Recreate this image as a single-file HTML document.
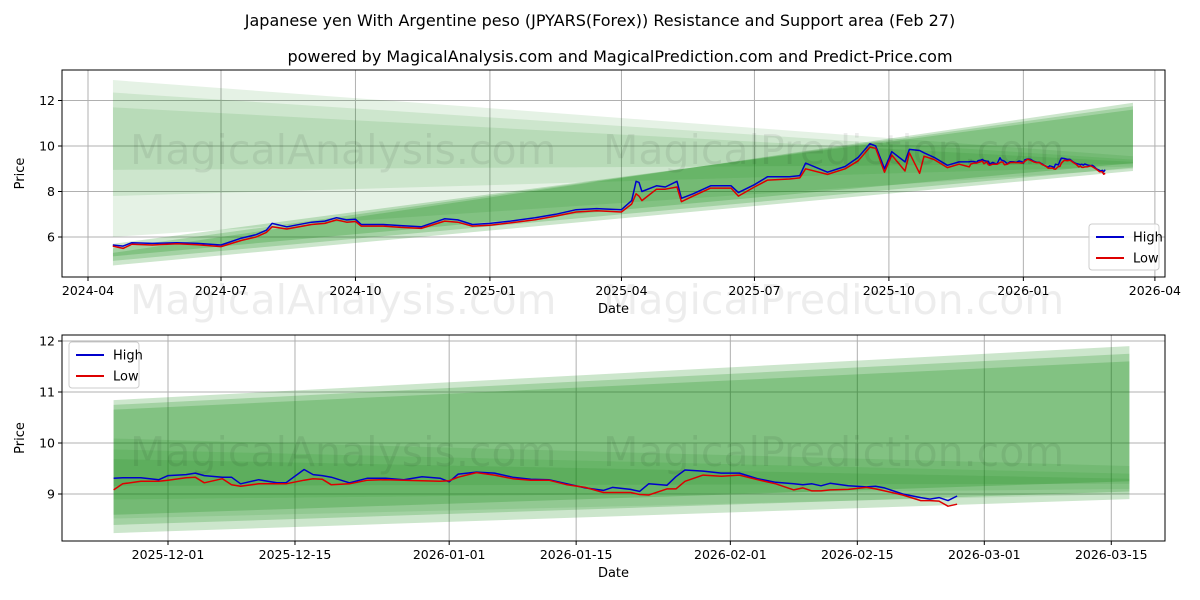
<!DOCTYPE html>
<html><head><meta charset="utf-8"><style>
html,body{margin:0;padding:0;background:#fff;overflow:hidden;width:1200px;height:600px}
svg{display:block}
svg text{font-family:"DejaVu Sans","Liberation Sans",sans-serif}
</style></head><body>
<svg id="c" width="1200" height="600" xmlns="http://www.w3.org/2000/svg">
<text x="600" y="26" font-size="16" text-anchor="middle">Japanese yen With Argentine peso (JPYARS(Forex)) Resistance and Support area (Feb 27)</text>
<text x="620" y="62" font-size="16" text-anchor="middle">powered by MagicalAnalysis.com and MagicalPrediction.com and Predict-Price.com</text>
</svg>
<script>
// ---- data ----
const bandStart = '2024-04-18', bandEnd = '2026-03-17';
const riseLo0 = [4.75, 4.95, 5.15], riseLo1 = [8.9, 9.05, 9.25];
const riseHi0 = [5.3, 5.5, 5.7], riseHi1 = [11.9, 11.75, 11.6];
const fallLo0 = [6.0, 7.8, 8.95], fallLo1 = [9.0, 9.1, 9.2];
const fallHi0 = [12.9, 12.35, 11.7], fallHi1 = [9.55, 9.4, 9.3];

const histDates = ['2024-04-18','2024-04-25','2024-05-01','2024-05-15','2024-06-01','2024-06-15','2024-07-01','2024-07-15','2024-07-25','2024-08-01','2024-08-05','2024-08-15','2024-09-01','2024-09-10','2024-09-18','2024-09-25','2024-10-01','2024-10-05','2024-10-20','2024-11-01','2024-11-15','2024-12-01','2024-12-10','2024-12-20','2025-01-01','2025-01-15','2025-02-01','2025-02-15','2025-03-01','2025-03-15','2025-04-01','2025-04-08','2025-04-11','2025-04-13','2025-04-15','2025-04-25','2025-05-01','2025-05-09','2025-05-12','2025-05-20','2025-06-01','2025-06-15','2025-06-20','2025-07-01','2025-07-10','2025-07-25','2025-08-01','2025-08-05','2025-08-20','2025-09-01','2025-09-10','2025-09-18','2025-09-22','2025-09-28','2025-10-03','2025-10-12','2025-10-15','2025-10-22','2025-10-25','2025-11-01','2025-11-10','2025-11-18'];
const histHigh = [5.65,5.6,5.75,5.72,5.75,5.72,5.65,5.95,6.1,6.3,6.6,6.45,6.65,6.7,6.85,6.75,6.78,6.55,6.55,6.5,6.45,6.8,6.75,6.55,6.6,6.7,6.85,7.0,7.2,7.25,7.2,7.6,8.45,8.4,8.0,8.25,8.2,8.45,7.7,7.9,8.25,8.25,7.95,8.3,8.65,8.65,8.7,9.25,8.85,9.1,9.5,10.1,10.0,9.0,9.75,9.3,9.85,9.8,9.7,9.5,9.15,9.3];
const histLow = [5.6,5.5,5.68,5.65,5.7,5.66,5.58,5.85,6.0,6.2,6.45,6.35,6.55,6.6,6.75,6.65,6.68,6.48,6.48,6.42,6.38,6.7,6.65,6.48,6.52,6.62,6.76,6.92,7.1,7.15,7.1,7.45,7.9,7.8,7.6,8.1,8.1,8.2,7.55,7.8,8.15,8.15,7.8,8.2,8.5,8.55,8.6,9.0,8.75,9.0,9.35,9.95,9.9,8.85,9.6,8.9,9.7,8.8,9.55,9.4,9.05,9.2];

const recDates = ['2025-11-25','2025-11-26','2025-11-28','2025-11-30','2025-12-01','2025-12-03','2025-12-04','2025-12-05','2025-12-07','2025-12-08','2025-12-09','2025-12-11','2025-12-13','2025-12-14','2025-12-16','2025-12-17','2025-12-18','2025-12-19','2025-12-21','2025-12-23','2025-12-25','2025-12-27','2025-12-29','2025-12-31','2026-01-01','2026-01-02','2026-01-04','2026-01-06','2026-01-08','2026-01-10','2026-01-12','2026-01-14','2026-01-16','2026-01-18','2026-01-19','2026-01-21','2026-01-22','2026-01-23','2026-01-25','2026-01-26','2026-01-27','2026-01-29','2026-01-31','2026-02-02','2026-02-04','2026-02-06','2026-02-08','2026-02-09','2026-02-10','2026-02-11','2026-02-12','2026-02-14','2026-02-16','2026-02-17','2026-02-18','2026-02-20','2026-02-22','2026-02-23','2026-02-24','2026-02-25','2026-02-26'];
const recHigh = [9.31,9.32,9.32,9.28,9.36,9.38,9.41,9.36,9.33,9.33,9.2,9.28,9.22,9.22,9.48,9.38,9.36,9.33,9.22,9.31,9.31,9.28,9.34,9.31,9.24,9.39,9.43,9.41,9.33,9.29,9.28,9.2,9.12,9.07,9.13,9.09,9.05,9.2,9.17,9.34,9.47,9.45,9.41,9.41,9.3,9.23,9.2,9.18,9.2,9.16,9.21,9.16,9.14,9.15,9.12,9.0,8.93,8.9,8.93,8.87,8.96];
const recLow = [9.08,9.2,9.25,9.25,9.27,9.32,9.33,9.22,9.3,9.18,9.15,9.2,9.2,9.2,9.27,9.3,9.29,9.18,9.2,9.27,9.28,9.27,9.26,9.25,9.26,9.33,9.42,9.37,9.3,9.27,9.27,9.18,9.13,9.03,9.03,9.03,8.99,8.98,9.1,9.1,9.25,9.37,9.35,9.37,9.28,9.2,9.08,9.12,9.06,9.06,9.08,9.09,9.13,9.1,9.06,8.98,8.87,8.87,8.86,8.76,8.8];

const topTicksY = [6,8,10,12];
const topTicksX = ['2024-04','2024-07','2024-10','2025-01','2025-04','2025-07','2025-10','2026-01','2026-04'];
const botTicksY = [9,10,11,12];
const botTicksX = ['2025-12-01','2025-12-15','2026-01-01','2026-01-15','2026-02-01','2026-02-15','2026-03-01','2026-03-15'];

// ---- helpers ----
const NS='http://www.w3.org/2000/svg', svg=document.getElementById('c');
const day = s => { const p=s.split('-'); return Date.UTC(+p[0],+p[1]-1,p[2]?+p[2]:1)/86400000; };
function mk(tag, attrs, parent){ const e=document.createElementNS(NS,tag); for(const k in attrs) e.setAttribute(k,attrs[k]); (parent||svg).appendChild(e); return e; }

function chart(cfg){
  const {L,R,T,B,d0,x0,px,v0,y0,vy,prefix} = cfg;
  const X = s => x0 + (day(s)-day(d0))*px;
  const Y = v => y0 - (v - v0)*vy;
  const cp = mk('clipPath',{id:'clip-'+prefix}); mk('rect',{x:L,y:T,width:R-L,height:B-T},cp);
  const bx = Math.max(L, X(cfg.bandFrom));
  const cpb = mk('clipPath',{id:'clipb-'+prefix}); mk('rect',{x:bx,y:T,width:R-bx,height:B-T},cpb);
  const g = mk('g',{'clip-path':`url(#clip-${prefix})`});
  
  
  cfg.ticksX.forEach(t=>{ const x=X(t); const l=mk('line',{x1:x,x2:x,y1:T,y2:B,stroke:'#b0b0b0','stroke-width':1},g);
      });
  cfg.ticksY.forEach(t=>{ const y=Y(t); const l=mk('line',{x1:L,x2:R,y1:y,y2:y,stroke:'#b0b0b0','stroke-width':1},g);
      });
  const gb = mk('g',{'clip-path':`url(#clipb-${prefix})`},g);
  
  
  const band=(lo0,hi0,lo1,hi1,name,op)=>{ const xa=X(bandStart), xb=X(bandEnd);
    const p=mk('polygon',{points:`${xa},${Y(hi0)} ${xb},${Y(hi1)} ${xb},${Y(lo1)} ${xa},${Y(lo0)}`,fill:'#008000','fill-opacity':op},gb);
      };
  for(let i=0;i<fallHi0.length;i++) band(fallLo0[i],fallHi0[i],fallLo1[i],fallHi1[i],'resistance-band',0.1);
  for(let i=0;i<riseHi0.length;i++) band(riseLo0[i],riseHi0[i],riseLo1[i],riseHi1[i],'support-band',0.2);
  cfg.wm.forEach(w=>{ const t=mk('text',{x:w[1],y:w[2],'font-size':41,fill:'#000','fill-opacity':0.07},svg); t.textContent=w[0];
      });
  const line=(ds,vs,col,name)=>{ const pts=ds.map((d,i)=>`${X(d).toFixed(1)},${Y(vs[i]).toFixed(1)}`).join(' ');
    const p=mk('polyline',{points:pts,fill:'none',stroke:col,'stroke-width':1.5,'stroke-linejoin':'round'},g);
      };
  line(cfg.dates,cfg.high,'#0000cc','high-line');
  line(cfg.dates,cfg.low,'#dd0000','low-line');
  const f=mk('rect',{x:L,y:T,width:R-L,height:B-T,fill:'none',stroke:'#000','stroke-width':1});
   
  cfg.ticksX.forEach((t,i)=>{ const x=X(t); mk('line',{x1:x,x2:x,y1:B,y2:B+4,stroke:'#000'});
    const tx=mk('text',{x:x,y:B+18,'font-size':12.5,'text-anchor':'middle'}); tx.textContent=cfg.labX[i];
      });
  cfg.ticksY.forEach(t=>{ const y=Y(t); mk('line',{x1:L-4,x2:L,y1:y,y2:y,stroke:'#000'});
    const tx=mk('text',{x:L-7,y:y+4.5,'font-size':12.5,'text-anchor':'end'}); tx.textContent=t;
      });
  const xl=mk('text',{x:(L+R)/2,y:B+36,'font-size':13,'text-anchor':'middle'}); xl.textContent='Date';
   
  const yl=mk('text',{x:0,y:0,'font-size':13,'text-anchor':'middle',transform:`translate(${L-38},${(T+B)/2}) rotate(-90)`}); yl.textContent='Price';
   
  const [lx,ly]=cfg.leg;
  const lg=mk('g',{});
   
  mk('rect',{x:lx,y:ly,width:70,height:46,rx:3,fill:'#fff','fill-opacity':0.85,stroke:'#ccc'},lg);
  [['High','#0000cc'],['Low','#dd0000']].forEach((e,i)=>{ const yy=ly+13+i*21;
    mk('line',{x1:lx+7,x2:lx+35,y1:yy,y2:yy,stroke:e[1],'stroke-width':2},lg);
    const t=mk('text',{x:lx+44,y:yy+4.5,'font-size':13},lg); t.textContent=e[0];
      });
}

chart({prefix:'top',L:62,R:1165,T:70,B:277,d0:'2024-04-01',x0:88,px:1.4615,v0:6,y0:237,vy:22.75,bandFrom:'2024-04-18',
  dates:histDates.concat(recDates),high:histHigh.concat(recHigh),low:histLow.concat(recLow),
  ticksX:topTicksX,labX:topTicksX,ticksY:topTicksY,leg:[1089,224],
  wm:[['MagicalAnalysis.com',130,164],['MagicalPrediction.com',603,164],['MagicalAnalysis.com',130,314],['MagicalPrediction.com',603,314]]});
chart({prefix:'bot',L:62,R:1165,T:335,B:541,d0:'2025-12-01',x0:168,px:9.07,v0:9,y0:494,vy:51,bandFrom:'2025-11-25',
  dates:recDates,high:recHigh,low:recLow,
  ticksX:botTicksX,labX:botTicksX,ticksY:botTicksY,leg:[69,342],
  wm:[['MagicalAnalysis.com',130,466],['MagicalPrediction.com',603,466]]});
</script>
</body></html>
